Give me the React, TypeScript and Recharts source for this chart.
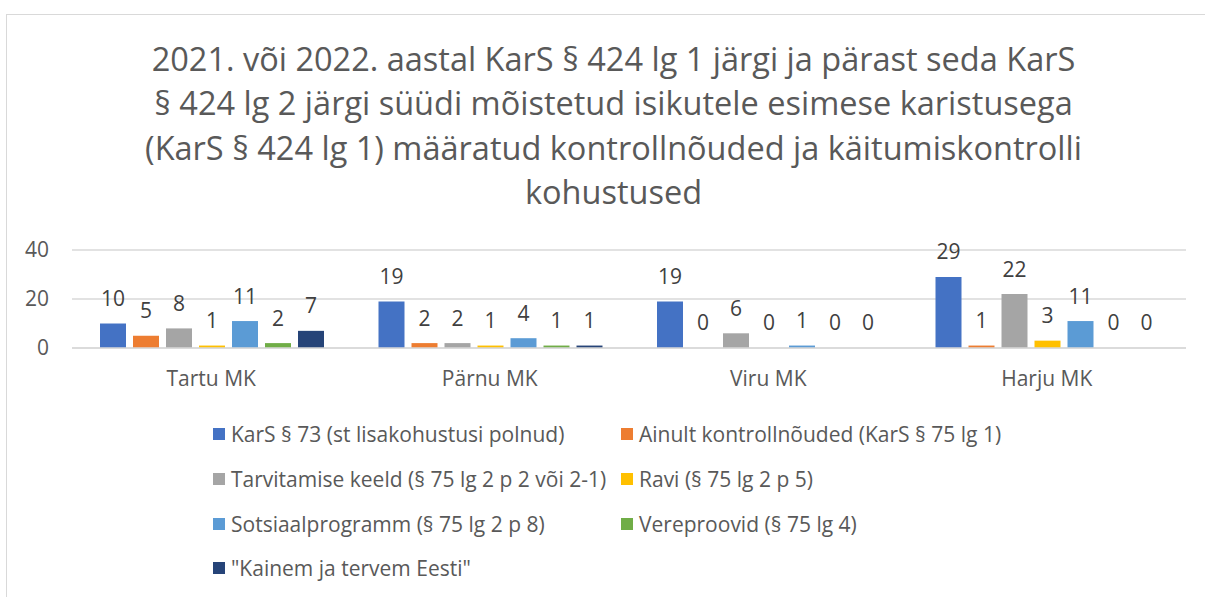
import React from 'react';
import { BarChart, Bar, XAxis, YAxis, CartesianGrid, LabelList } from 'recharts';

const titleLines = [
  '2021. või 2022. aastal KarS § 424 lg 1 järgi ja pärast seda KarS',
  '§ 424 lg 2 järgi süüdi mõistetud isikutele esimese karistusega',
  '(KarS § 424 lg 1) määratud kontrollnõuded ja käitumiskontrolli',
  'kohustused',
];

const categories = ['Tartu MK', 'Pärnu MK', 'Viru MK', 'Harju MK'];

const seriesNames = [
  'KarS § 73 (st lisakohustusi polnud)',
  'Ainult kontrollnõuded (KarS § 75 lg 1)',
  'Tarvitamise keeld (§ 75 lg 2 p 2 või 2-1)',
  'Ravi (§ 75 lg 2 p 5)',
  'Sotsiaalprogramm (§ 75 lg 2 p 8)',
  'Vereproovid (§ 75 lg 4)',
  '"Kainem ja tervem Eesti"',
];

const seriesColors = ['#4472C4', '#ED7D31', '#A5A5A5', '#FFC000', '#5B9BD5', '#70AD47', '#264478'];

const kars73 = [10, 19, 19, 29];
const ainultKontroll = [5, 2, 0, 1];
const tarvitamiseKeeld = [8, 2, 6, 22];
const ravi = [1, 1, 0, 3];
const sotsiaalprogramm = [11, 4, 1, 11];
const vereproovid = [2, 1, 0, 0];
const kainem = [7, 1, 0, 0];

const seriesValues = [kars73, ainultKontroll, tarvitamiseKeeld, ravi, sotsiaalprogramm, vereproovid, kainem];

const yTicks = [0, 20, 40];

const data = categories.map((name, i) => {
  const row: Record<string, string | number> = { name };
  seriesValues.forEach((vals, s) => {
    row['s' + s] = vals[i];
  });
  return row;
});

const FONT = '"Open Sans", Lato, sans-serif';
const TEXT = '#595959';

const renderValueLabel = (props: any) => {
  const { x, y, width, value } = props;
  if (x == null || y == null) return null;
  return (
    <text x={Number(x) + Number(width) / 2} y={Number(y) - 17.5} textAnchor="middle" fill="#404040" fontSize={21} fontFamily={FONT}>
      {String(value)}
    </text>
  );
};

export default function App() {
  return (
    <div style={{ position: 'absolute', left: 0, top: 0, width: 1205, height: 597, overflow: 'hidden', background: '#fff', fontFamily: FONT }}>
      <div style={{ position: 'absolute', left: 6, top: 14, width: 1300, height: 700, border: '1px solid #D9D9D9', boxSizing: 'border-box' }} />
      {titleLines.map((line, i) => (
        <div key={i} style={{ position: 'absolute', left: 0, width: 1227, top: 37 + i * 44.3, height: 44, lineHeight: '44px', textAlign: 'center', fontSize: 32.5, color: TEXT, whiteSpace: 'nowrap' }}>
          {line}
        </div>
      ))}
      <div style={{ position: 'absolute', left: 0, top: 230 }}>
        <BarChart width={1205} height={180} data={data} margin={{ top: 20, right: 19, bottom: 0, left: 0 }} barCategoryGap={28} barGap={7}>
          <CartesianGrid vertical={false} stroke="#D9D9D9" strokeWidth={1.3} />
          <XAxis dataKey="name" axisLine={{ stroke: '#D9D9D9', strokeWidth: 1.3 }} tickLine={false} tickSize={0} tickMargin={23.5} height={62}
            tick={{ fill: TEXT, fontSize: 21, fontFamily: FONT }} interval={0} />
          <YAxis width={72} domain={[0, 40]} ticks={yTicks} axisLine={false} tickLine={false} tickSize={0} tickMargin={23}
            tick={{ fill: TEXT, fontSize: 21, fontFamily: FONT }} />
          {seriesNames.map((n, s) => (
            <Bar key={s} dataKey={'s' + s} name={n} fill={seriesColors[s]} isAnimationActive={false} minPointSize={0.01}>
              <LabelList dataKey={'s' + s} content={renderValueLabel} />
            </Bar>
          ))}
        </BarChart>
      </div>
      {seriesNames.map((n, s) => {
        const row = Math.floor(s / 2);
        const col = s % 2;
        return (
          <div key={s} style={{ position: 'absolute', left: col === 0 ? 213 : 621, top: 434 + row * 44.8 - 15, height: 30, display: 'flex', alignItems: 'center', whiteSpace: 'nowrap', fontSize: 21, color: TEXT }}>
            <span style={{ display: 'inline-block', width: 12, height: 12, background: seriesColors[s], marginRight: 6 }} />
            <span>{n}</span>
          </div>
        );
      })}
    </div>
  );
}
